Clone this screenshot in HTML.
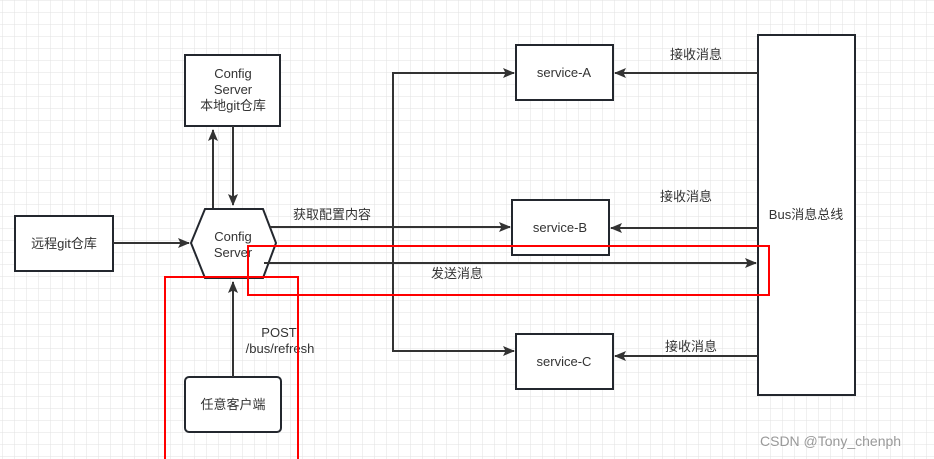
<!DOCTYPE html>
<html><head><meta charset="utf-8"><style>
html,body{margin:0;padding:0;background:#fff}
svg{display:block}
text{font-family:"Liberation Sans","Noto Sans CJK SC",sans-serif;font-size:13px;fill:#333}
</style></head><body>
<svg width="934" height="459" viewBox="0 0 934 459" xmlns="http://www.w3.org/2000/svg">
<defs>
<pattern id="g" width="12" height="12" patternUnits="userSpaceOnUse" x="3" y="1">
<path d="M12 0V12M0 12H12" fill="none" stroke="#e2e2e2" stroke-width="1"/>
</pattern>
<marker id="a" markerWidth="12" markerHeight="10" refX="11" refY="5" orient="auto" markerUnits="userSpaceOnUse">
<path d="M0,0 L12,5 L0,10 L2.5,5 Z" fill="#333"/>
</marker>
</defs>
<rect width="934" height="459" fill="url(#g)"/>
<g fill="#fff" stroke="#23272e" stroke-width="2">
<rect x="15" y="216" width="98" height="55"/>
<rect x="185" y="55" width="95" height="71"/>
<rect x="185" y="377" width="96" height="55" rx="4"/>
<polygon points="191,243 205,209 263,209 276,243 263,278 205,278"/>
<rect x="516" y="45" width="97" height="55"/>
<rect x="512" y="200" width="97" height="55"/>
<rect x="516" y="334" width="97" height="55"/>
<rect x="758" y="35" width="97" height="360"/>
</g>
<g stroke="#333" stroke-width="2" fill="none" marker-end="url(#a)">
<path d="M113 243H189"/>
<path d="M213 208V130"/>
<path d="M233 126V205"/>
<path d="M233 377V282"/>
<path d="M270 227H510"/>
<path d="M264 263H756"/>
<path d="M400 351H393V73H514"/>
<path d="M393 351H514"/>
<path d="M758 73H615"/>
<path d="M758 228H611"/>
<path d="M758 356H615"/>
</g>
<text x="64" y="248" text-anchor="middle">远程git仓库</text>
<text x="233" y="78" text-anchor="middle">Config</text>
<text x="233" y="94" text-anchor="middle">Server</text>
<text x="233" y="110" text-anchor="middle">本地git仓库</text>
<text x="233" y="241" text-anchor="middle">Config</text>
<text x="233" y="257" text-anchor="middle">Server</text>
<text x="233" y="409" text-anchor="middle">任意客户端</text>
<text x="279" y="337" text-anchor="middle">POST</text>
<text x="280" y="353" text-anchor="middle">/bus/refresh</text>
<text x="564" y="77" text-anchor="middle">service-A</text>
<text x="560" y="232" text-anchor="middle">service-B</text>
<text x="564" y="366" text-anchor="middle">service-C</text>
<text x="806" y="219" text-anchor="middle">Bus消息总线</text>
<text x="293" y="219">获取配置内容</text>
<text x="431" y="278">发送消息</text>
<text x="670" y="59">接收消息</text>
<text x="660" y="201">接收消息</text>
<text x="665" y="351">接收消息</text>
<g fill="none" stroke="#f00" stroke-width="2">
<rect x="248" y="246" width="521" height="49"/>
<path d="M165 460V277H298V460"/>
</g>
<text x="760" y="446" style="font-size:14px;fill:#999">CSDN @Tony_chenph</text>
</svg>
</body></html>
